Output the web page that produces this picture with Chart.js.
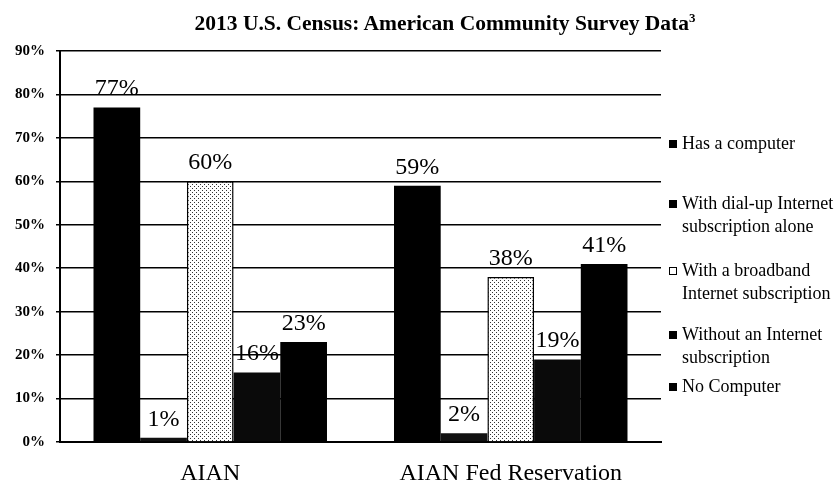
<!DOCTYPE html>
<html>
<head>
<meta charset="utf-8">
<script src="https://cdn.jsdelivr.net/npm/chart.js@4/dist/chart.umd.min.js"></script>
<style>
  body { margin: 0; background: #fff; }
  #wrap { position: relative; width: 835px; height: 483px; }
  #title {
    position: absolute; left: 55px; width: 780px; top: 10px;
    text-align: center; font: bold 21.5px "Liberation Serif", serif; color: #000;
  }
  #title sup { font-size: 13px; }
  #legend {
    position: absolute; left: 669px; top: 0; width: 166px;
    font: 18px "Liberation Serif", serif; color: #000; line-height: 23px;
  }
  .item { position: absolute; left: 0; display: flex; white-space: nowrap; }
  .box { width: 8px; height: 8px; margin: 8px 5px 0 0; flex: none; box-sizing: border-box; }
</style>
</head>
<body>
<div id="wrap">
  <canvas id="censusChart"></canvas>
  <div id="title">2013 U.S. Census: American Community Survey Data<sup>3</sup></div>
  <div id="legend"></div>
</div>
<script>
// data
const categories = ['AIAN', 'AIAN Fed Reservation'];
const seriesNames = [
  ['Has a computer'],
  ['With dial-up Internet', 'subscription alone'],
  ['With a broadband', 'Internet subscription'],
  ['Without an Internet', 'subscription'],
  ['No Computer']
];
const hasComputer = [77, 59];
const dialUp = [1, 2];
const broadband = [60, 38];
const noInternet = [16, 19];
const noComputer = [23, 41];
const yTicks = [0, 10, 20, 30, 40, 50, 60, 70, 80, 90];

// light stipple for the broadband bars
function stipple() {
  const c = document.createElement('canvas');
  c.width = 4; c.height = 4;
  const g = c.getContext('2d');
  g.fillStyle = '#fff';
  g.fillRect(0, 0, 4, 4);
  g.fillStyle = '#333';
  g.fillRect(0, 0, 1, 1);
  g.fillRect(2, 2, 1, 1);
  return g.createPattern(c, 'repeat');
}

const fills = ['#000', '#111', stipple(), '#0a0a0a', '#000'];
const values = [hasComputer, dialUp, broadband, noInternet, noComputer];

const datasets = values.map((v, i) => ({
  label: seriesNames[i].join(' '),
  data: v,
  backgroundColor: fills[i],
  borderColor: '#000',
  borderWidth: i === 2 ? 1.5 : 0,
  categoryPercentage: 0.777,
  barPercentage: 1.0
}));

// percent labels over each bar
const barLabels = {
  id: 'barLabels',
  afterDatasetsDraw(chart) {
    const ctx = chart.ctx;
    ctx.save();
    ctx.font = '24px "Liberation Serif", serif';
    ctx.fillStyle = '#000';
    ctx.textAlign = 'center';
    ctx.textBaseline = 'alphabetic';
    chart.data.datasets.forEach((ds, i) => {
      chart.getDatasetMeta(i).data.forEach((bar, j) => {
        ctx.fillText(ds.data[j] + '%', bar.x, bar.y - 12);
      });
    });
    ctx.restore();
  }
};

const ctx = document.getElementById('censusChart').getContext('2d');
const censusChart = new Chart(ctx, {
  type: 'bar',
  data: { labels: categories, datasets: datasets },
  plugins: [barLabels],
  options: {
    responsive: true,
    maintainAspectRatio: false,
    animation: false,
    layout: { padding: { top: 51, right: 174, left: 0, bottom: 0 } },
    plugins: {
      legend: { display: false },
      title: { display: false },
      tooltip: { enabled: false }
    },
    scales: {
      x: {
        grid: { display: false },
        border: { display: true, color: '#000', width: 2 },
        ticks: { color: '#000', font: { family: 'Liberation Serif', size: 24 }, padding: 9 },
        afterFit: (s) => { s.height = 41; }
      },
      y: {
        min: 0,
        max: 90,
        afterBuildTicks: (s) => { s.ticks = yTicks.map(v => ({ value: v })); },
        grid: { color: '#000', lineWidth: 1.5, tickLength: 4 },
        border: { display: true, color: '#000', width: 2 },
        ticks: {
          color: '#000',
          padding: 11,
          font: { family: 'Liberation Serif', size: 15, weight: 'bold' },
          callback: (v) => v + '%'
        },
        afterFit: (s) => { s.width = 60; }
      }
    }
  }
});

// legend built from the series
const legendTops = [132, 192, 259, 323, 375];
const legend = document.getElementById('legend');
seriesNames.forEach((name, i) => {
  const item = document.createElement('div');
  item.className = 'item';
  item.style.top = legendTops[i] + 'px';
  const box = document.createElement('div');
  box.className = 'box';
  if (i === 2) {
    box.style.background = '#fff';
    box.style.border = '1.5px solid #000';
  } else {
    box.style.background = '#000';
  }
  const txt = document.createElement('div');
  txt.innerHTML = name.join('<br>');
  item.appendChild(box);
  item.appendChild(txt);
  legend.appendChild(item);
});
</script>
</body>
</html>
